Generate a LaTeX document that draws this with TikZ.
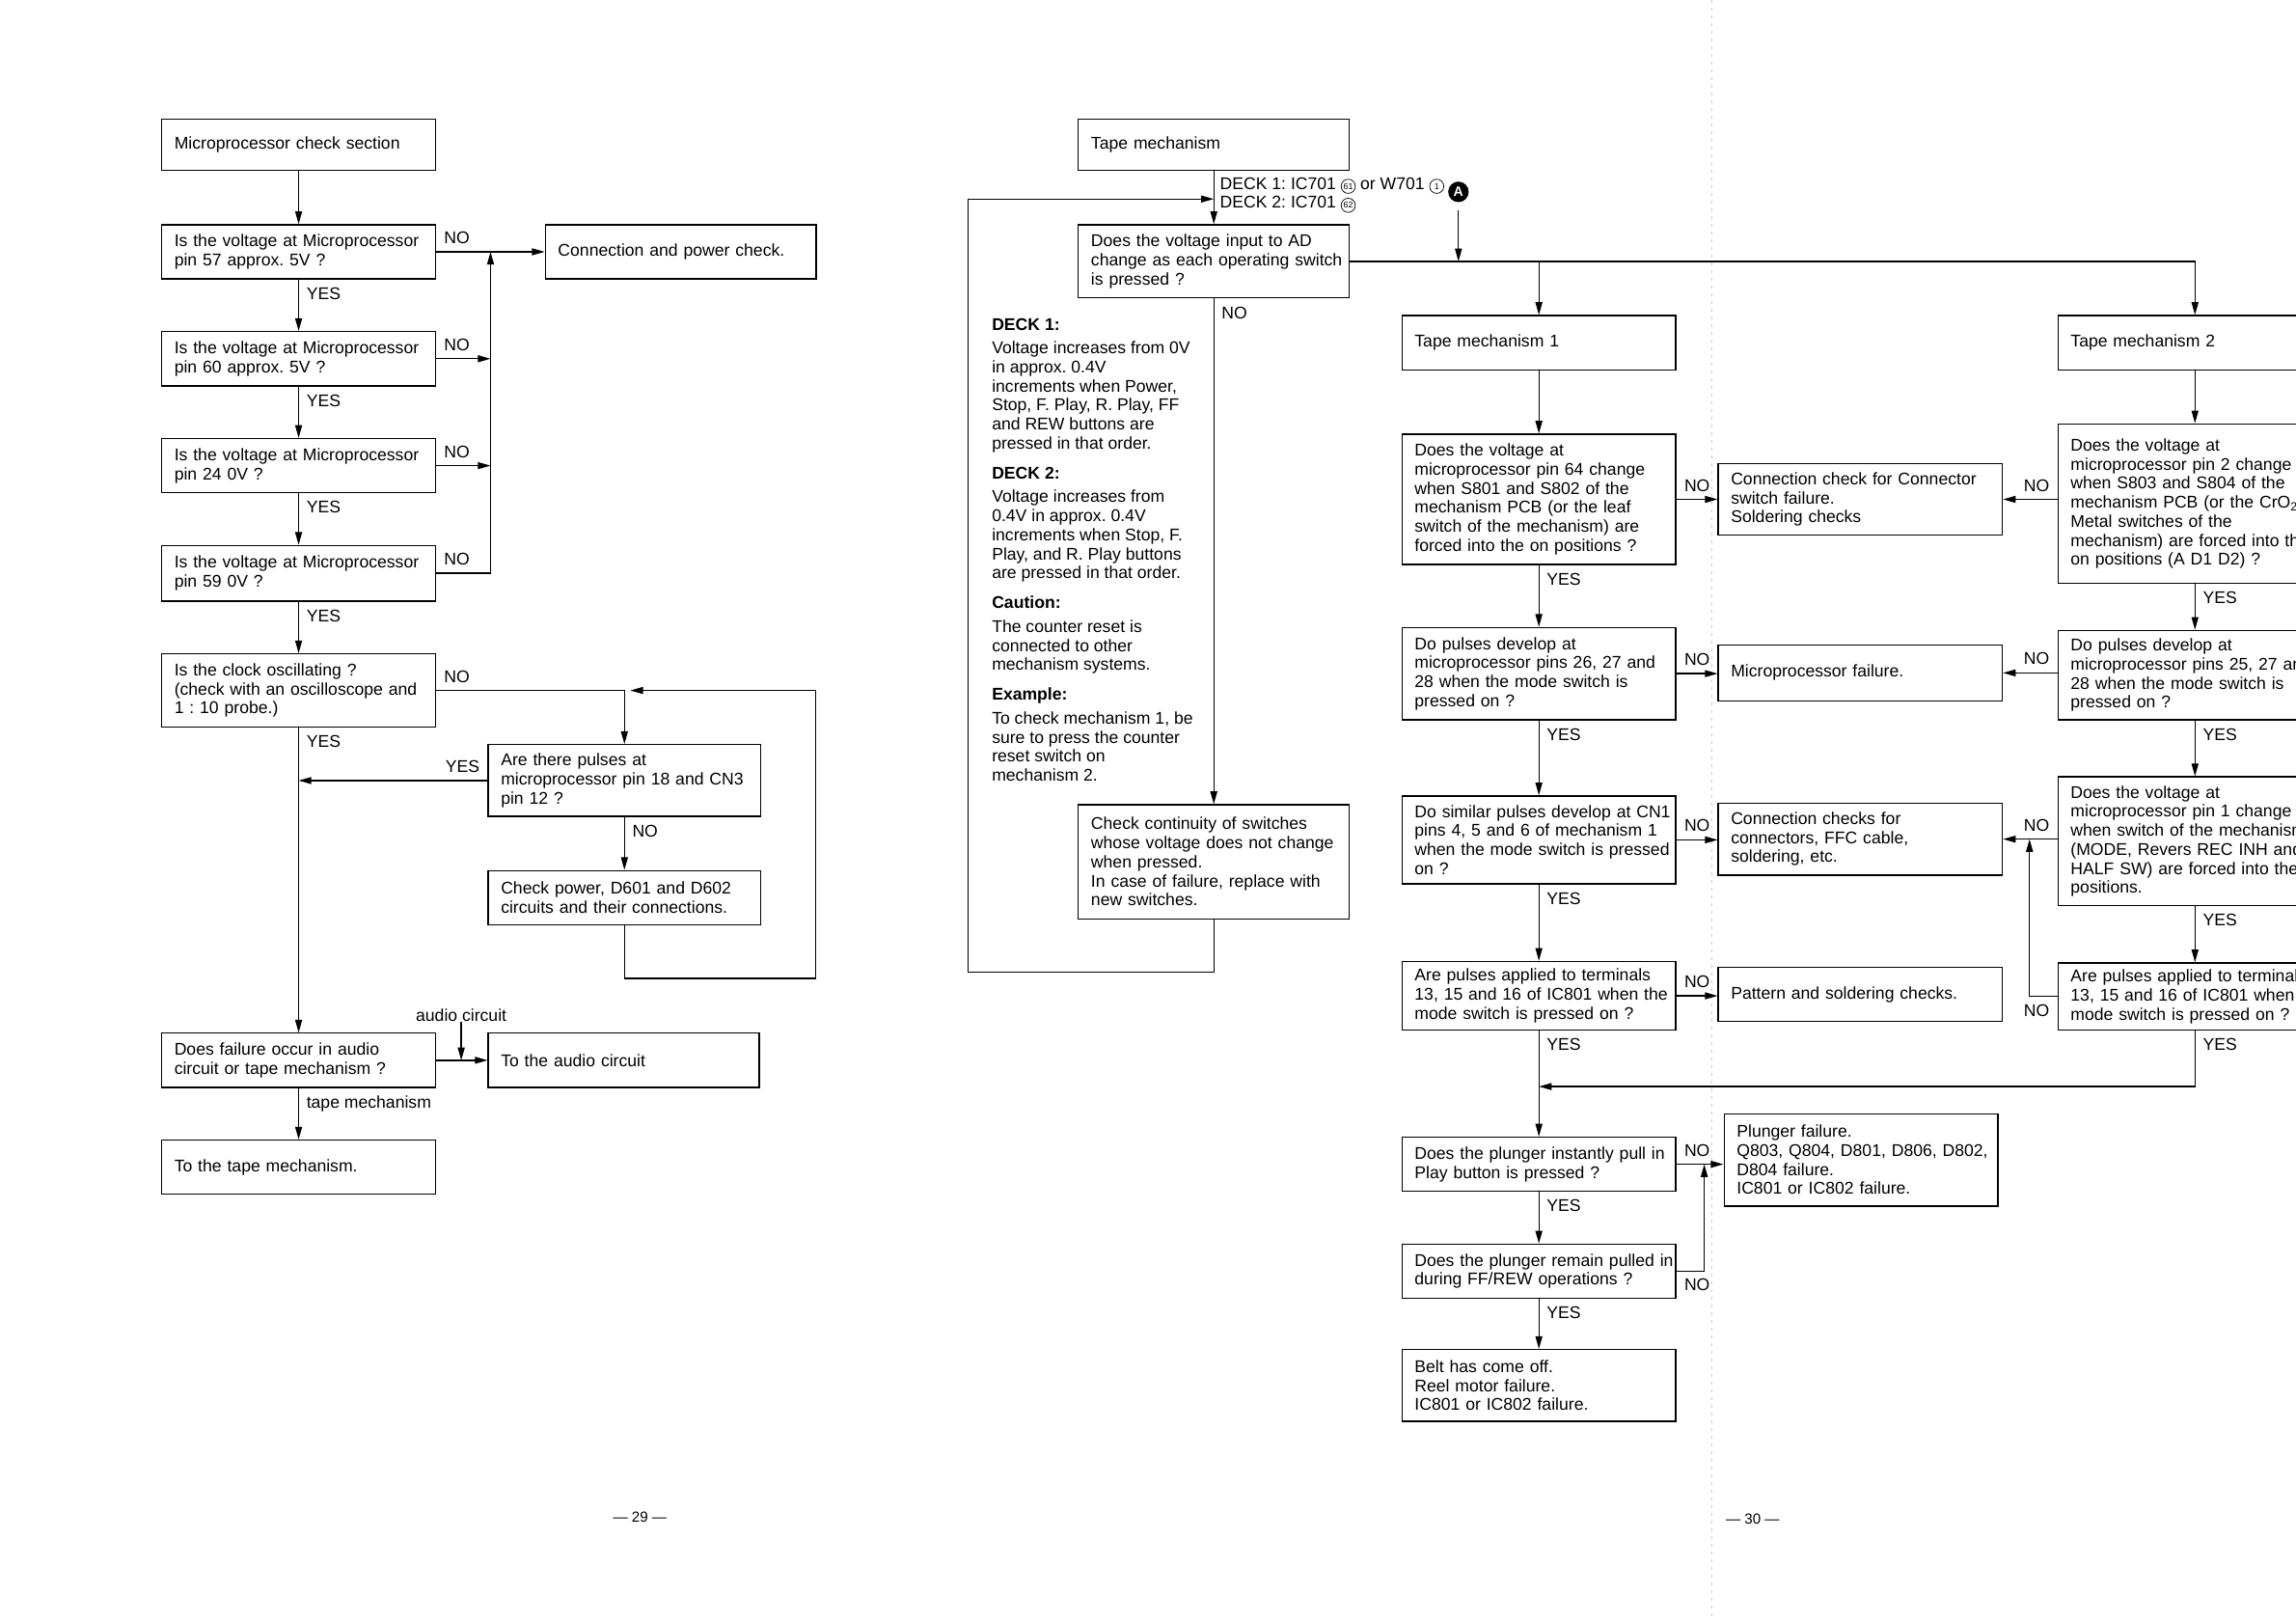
\documentclass[tikz,border=0pt]{standalone}
\usepackage{fontspec}
\setmainfont{Liberation Sans}
\usepackage{tikz}
\usetikzlibrary{positioning, arrows.meta, calc}
\frenchspacing

\newcommand{\flowfont}{\fontsize{9.9}{11.1}\selectfont}
\newcommand{\circnum}[1]{\tikz[baseline=(cn.base)]\node[circle, draw, line width=0.4pt, inner sep=0.3pt, minimum size=2.9mm, font=\fontsize{5}{5}\selectfont] (cn) {#1};}

\begin{document}
\begin{tikzpicture}[
    x=0.3mm, y=-0.3mm, line width=0.75pt,
    % Node styles
    box/.style 2 args={draw, anchor=north west, font=\flowfont,
        inner xsep=0.5mm, inner ysep=0pt,
        minimum width=#1*0.3mm, minimum height=#2*0.3mm,
        /utils/exec={\pgfmathsetlengthmacro\boxtw{#1*0.3mm-1mm}}, text width=\boxtw,
        execute at begin node={\raggedright\leftskip=2.1mm\relax}},
    tag/.style={font=\flowfont, inner sep=1.5mm},
    note/.style={anchor=north west, align=left, inner sep=0pt, font=\flowfont},
    amark/.style={circle, fill=black, text=white, inner sep=0pt, minimum size=4.2mm, font=\fontsize{8}{8}\selectfont\bfseries},
    pagenum/.style={font=\fontsize{8.5}{9}\selectfont, inner sep=0pt},
    % Edge styles
    arr/.style={-{Triangle[length=2.6mm, width=1.4mm]}},
    foldline/.style={gray!45, line width=0.4pt, dash pattern=on 1.5pt off 3pt}
]
\useasboundingbox (0,0) rectangle (1568,1107);
\clip (0,0) rectangle (1568,1107);
% Page fold
\draw[foldline] (1169,0) -- (1169,1107);

% Microprocessor check (page 29)
\node[box={187}{35}] (start) at (110,81) {Microprocessor check section};
\node[box={187}{37}] (q57) at (110,153) {Is the voltage at Microprocessor\\pin 57 approx. 5V ?};
\node[box={185}{37}] (conn) at (372,153) {Connection and power check.};
\node[box={187}{37}] (q60) at (110,226) {Is the voltage at Microprocessor\\pin 60 approx. 5V ?};
\node[box={187}{37}] (q24) at (110,299) {Is the voltage at Microprocessor\\pin 24 0V ?};
\node[box={187}{38}] (q59) at (110,372) {Is the voltage at Microprocessor\\pin 59 0V ?};
\node[box={187}{50}] (clock) at (110,446) {Is the clock oscillating ?\\(check with an oscilloscope and\\1 : 10 probe.)};
\node[box={186}{49}] (pulses) at (333,508) {Are there pulses at\\microprocessor pin 18 and CN3\\pin 12 ?};
\node[box={186}{37}] (power) at (333,594) {Check power, D601 and D602\\circuits and their connections.};
\node[box={187}{37}] (audioq) at (110,705) {Does failure occur in audio\\circuit or tape mechanism ?};
\node[box={185}{37}] (audio) at (333,705) {To the audio circuit};
\node[box={187}{37}] (tapeto) at (110,778) {To the tape mechanism.};
\node[tag, inner sep=0pt] (alab) at (315,693) {audio circuit};
\coordinate (bus) at (335,0);
\coordinate (ploop) at (557,668);

\draw[arr] (start) -- (q57);
\draw[arr] (q57) -- node[tag, pos=0, anchor=south west] {NO} (conn);
\draw[arr] (q57) -- node[tag, pos=0, anchor=north west] {YES} (q60);
\draw[arr] (q60) -- node[tag, pos=0, anchor=north west] {YES} (q24);
\draw[arr] (q24) -- node[tag, pos=0, anchor=north west] {YES} (q59);
\draw[arr] (q59) -- node[tag, pos=0, anchor=north west] {YES} (clock);
\draw[arr] (q60.east) -- node[tag, pos=0, anchor=south west] {NO} (q60.east -| bus);
\draw[arr] (q24.east) -- node[tag, pos=0, anchor=south west] {NO} (q24.east -| bus);
\draw[arr] (q59.east) -- node[tag, pos=0, anchor=south west] {NO} (q59.east -| bus) -- (q57.east -| bus);
\draw[arr] (clock.east) -| node[tag, pos=0, anchor=south west] {NO} (pulses.north);
\draw[arr] (pulses) -- node[tag, pos=0, anchor=north west] {NO} (power);
\draw[arr] (power.south) |- (ploop) |- ($(clock.east -| pulses.north)+(4,0)$);
\draw[arr] (pulses.west) -- node[tag, pos=0, anchor=south east] {YES} (pulses.west -| clock.south);
\draw[arr] (clock) -- node[tag, pos=0, anchor=north west] {YES} (audioq);
\draw[arr] (audioq) -- (audio);
\draw[arr] (alab.south) -- (alab.south |- audioq.east);
\draw[arr] (audioq) -- node[tag, pos=0, anchor=north west] {tape mechanism} (tapeto);

% Tape mechanism switches
\node[box={185}{35}] (tape) at (736,81) {Tape mechanism};
\node[box={185}{50}] (deckq) at (736,153) {Does the voltage input to AD\\change as each operating switch\\is pressed ?};
\node[box={185}{78}] (cont) at (736,549) {Check continuity of switches\\whose voltage does not change\\when pressed.\\In case of failure, replace with\\new switches.};
\node[note] (deck) at (677,217) {\textbf{DECK 1:}\\[2.6pt]
    Voltage increases from 0V\\in approx. 0.4V\\increments when Power,\\Stop, F. Play, R. Play, FF\\and REW buttons are\\pressed in that order.\\[6.4pt]
    \textbf{DECK 2:}\\[2.6pt]
    Voltage increases from\\0.4V in approx. 0.4V\\increments when Stop, F.\\Play, and R. Play buttons\\are pressed in that order.\\[6.4pt]
    \textbf{Caution:}\\[2.6pt]
    The counter reset is\\connected to other\\mechanism systems.\\[6.4pt]
    \textbf{Example:}\\[2.6pt]
    To check mechanism 1, be\\sure to press the counter\\reset switch on\\mechanism 2.};
\node[amark] (amk) at (996,131) {A};
\coordinate (fbin) at ($(tape.south)+(0,19)$);
\coordinate (fbk) at ($(cont.south)+(-168,36)$);

\draw[arr] (tape) -- node[tag, pos=0, anchor=north west, align=left, inner sep=1.2mm]
    {DECK 1: IC701 \circnum{61} or W701 \circnum{1}\\DECK 2: IC701 \circnum{62}} (deckq);
\draw[arr] (deckq) -- node[tag, pos=0, anchor=north west] {NO} (cont);
\draw[arr] (cont.south) |- (fbk) |- (fbin);
\draw[arr, shorten <=1.5mm] (amk) -- (amk |- deckq.east);

% Tape mechanism 1 (page 30)
\node[box={187}{37}] (tm1) at (957,215) {Tape mechanism 1};
\node[box={187}{89}] (q64) at (957,296) {Does the voltage at\\microprocessor pin 64 change\\when S801 and S802 of the\\mechanism PCB (or the leaf\\switch of the mechanism) are\\forced into the on positions ?};
\node[box={194}{49}] (conn1) at (1173,316) {Connection check for Connector\\switch failure.\\Soldering checks};
\node[box={187}{63}] (qp26) at (957,428) {Do pulses develop at\\microprocessor pins 26, 27 and\\28 when the mode switch is\\pressed on ?};
\node[box={194}{38}] (mfail) at (1173,440) {Microprocessor failure.};
\node[box={187}{60}] (qcn1) at (957,543) {Do similar pulses develop at CN1\\pins 4, 5 and 6 of mechanism 1\\when the mode switch is pressed\\on ?};
\node[box={194}{49}] (conn2) at (1173,548) {Connection checks for\\connectors, FFC cable,\\soldering, etc.};
\node[box={187}{47}] (qic) at (957,656) {Are pulses applied to terminals\\13, 15 and 16 of IC801 when the\\mode switch is pressed on ?};
\node[box={194}{37}] (pattern) at (1173,660) {Pattern and soldering checks.};
\node[box={187}{37}] (plq) at (957,776) {Does the plunger instantly pull in\\Play button is pressed ?};
\node[box={187}{63}] (plfail) at (1177,760) {Plunger failure.\\Q803, Q804, D801, D806, D802,\\D804 failure.\\IC801 or IC802 failure.};
\node[box={187}{37}] (remq) at (957,849) {Does the plunger remain pulled in\\during FF/REW operations ?};
\node[box={187}{49}] (belt) at (957,921) {Belt has come off.\\Reel motor failure.\\IC801 or IC802 failure.};
\coordinate (merge) at ($(qic.south)+(0,38)$);
\coordinate (pjoin) at ($(plq.east)+(19,0)$);

\draw[arr] (deckq.east -| tm1.north) -- (tm1);
\draw[arr] (tm1) -- (q64);
\draw[arr] (q64) -- node[tag, pos=0, anchor=south west] {NO} (q64.east -| conn1.west);
\draw[arr] (q64) -- node[tag, pos=0, anchor=north west] {YES} (qp26);
\draw[arr] (qp26) -- node[tag, pos=0, anchor=south west] {NO} (qp26.east -| mfail.west);
\draw[arr] (qp26) -- node[tag, pos=0, anchor=north west] {YES} (qcn1);
\draw[arr] (qcn1) -- node[tag, pos=0, anchor=south west] {NO} (qcn1.east -| conn2.west);
\draw[arr] (qcn1) -- node[tag, pos=0, anchor=north west] {YES} (qic);
\draw[arr] (qic) -- node[tag, pos=0, anchor=south west] {NO} (qic.east -| pattern.west);
\draw[arr] (qic) -- node[tag, pos=0, anchor=north west] {YES} (plq);
\draw[arr] (plq) -- node[tag, pos=0, anchor=south west] {NO} (plq.east -| plfail.west);
\draw[arr] (plq) -- node[tag, pos=0, anchor=north west] {YES} (remq);
\draw[arr] (remq.east) -| node[tag, pos=0, anchor=north west] {NO} (pjoin);
\draw[arr] (remq) -- node[tag, pos=0, anchor=north west] {YES} (belt);

% Tape mechanism 2
\coordinate (rtrunk) at (1499,0);
\node[box={260}{37}] (tm2) at (1405,215) {Tape mechanism 2};
\node[box={260}{109}] (q2) at (1405,289) {Does the voltage at\\microprocessor pin 2 change\\when S803 and S804 of the\\mechanism PCB (or the CrO\textsubscript{2}\\Metal switches of the\\mechanism) are forced into the\\on positions (A D1 D2) ?};
\node[box={260}{61}] (qp25) at (1405,430) {Do pulses develop at\\microprocessor pins 25, 27 and\\28 when the mode switch is\\pressed on ?};
\node[box={260}{88}] (q1) at (1405,530) {Does the voltage at\\microprocessor pin 1 change\\when switch of the mechanism\\(MODE, Revers REC INH and\\HALF SW) are forced into the\\positions.};
\node[box={260}{46}] (qt2) at (1405,657) {Are pulses applied to terminals\\13, 15 and 16 of IC801 when the\\mode switch is pressed on ?};
\coordinate (rjoin) at ($(q1.west |- conn2.east)+(-19,0)$);

\draw[arr] (deckq.east) -| (rtrunk |- tm2.north);
\draw[arr] (rtrunk |- tm2.south) -- (rtrunk |- q2.north);
\draw[arr] (q2.west |- conn1.east) -- node[tag, pos=0, anchor=south east] {NO} (conn1.east);
\draw[arr] (rtrunk |- q2.south) -- node[tag, pos=0, anchor=north west] {YES} (rtrunk |- qp25.north);
\draw[arr] (qp25.west |- mfail.east) -- node[tag, pos=0, anchor=south east] {NO} (mfail.east);
\draw[arr] (rtrunk |- qp25.south) -- node[tag, pos=0, anchor=north west] {YES} (rtrunk |- q1.north);
\draw[arr] (q1.west |- conn2.east) -- node[tag, pos=0, anchor=south east] {NO} (conn2.east);
\draw[arr] (rtrunk |- q1.south) -- node[tag, pos=0, anchor=north west] {YES} (rtrunk |- qt2.north);
\draw[arr] (qt2.west) -| node[tag, pos=0, anchor=north east] {NO} (rjoin);
\draw[arr] (rtrunk |- qt2.south) |- node[tag, pos=0, anchor=north west] {YES} (merge);

% Page numbers
\node[pagenum] (pg29) at (437,1036) {— 29 —};
\node[pagenum] (pg30) at (1197,1037) {— 30 —};
\end{tikzpicture}
\end{document}
